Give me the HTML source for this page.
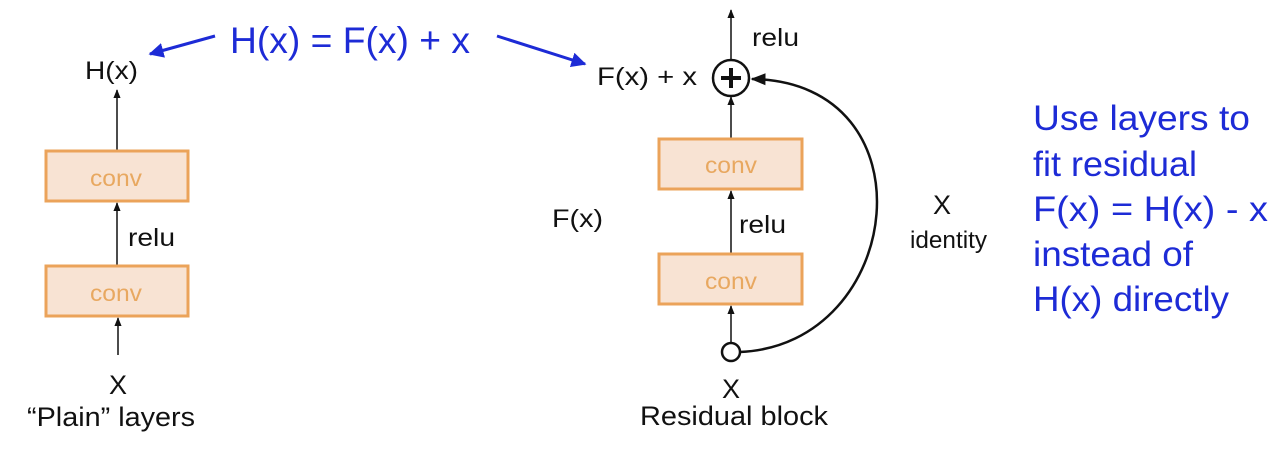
<!DOCTYPE html>
<html><head><meta charset="utf-8"><style>
html,body{margin:0;padding:0;background:#fff;width:1280px;height:459px;overflow:hidden}
svg text{font-family:"Liberation Sans",Arial,sans-serif}
</style></head><body>
<svg width="1280" height="459" viewBox="0 0 1280 459" xmlns="http://www.w3.org/2000/svg">
<defs>
<marker id="a" viewBox="0 0 10 10" refX="9" refY="5" markerWidth="6" markerHeight="7" orient="auto"><path d="M0,1 L10,5 L0,9 z" fill="#111"/></marker>
<marker id="b" viewBox="0 0 10 10" refX="9" refY="5" markerWidth="5" markerHeight="5" orient="auto"><path d="M0,0 L10,5 L0,10 z" fill="#1d2bd6"/></marker>
</defs>
<text x="230" y="53" font-size="37" fill="#1d2bd6" textLength="240" lengthAdjust="spacingAndGlyphs">H(x) = F(x) + x</text>
<line x1="215" y1="36" x2="150" y2="54" stroke="#1d2bd6" stroke-width="3" marker-end="url(#b)"/>
<line x1="497" y1="36" x2="585" y2="64" stroke="#1d2bd6" stroke-width="3" marker-end="url(#b)"/>
<!-- plain -->
<text x="85" y="79" font-size="25" fill="#111" textLength="53" lengthAdjust="spacingAndGlyphs">H(x)</text>
<line x1="117" y1="150" x2="117" y2="90" stroke="#111" stroke-width="1.5" marker-end="url(#a)"/>
<rect x="46" y="151" width="142" height="50" fill="#f8e3d3" stroke="#eba35a" stroke-width="3"/>
<text x="90" y="186" font-size="23" fill="#e8a860" textLength="52" lengthAdjust="spacingAndGlyphs">conv</text>
<line x1="117" y1="265" x2="117" y2="203" stroke="#111" stroke-width="1.5" marker-end="url(#a)"/>
<text x="128" y="246" font-size="25" fill="#111" textLength="47" lengthAdjust="spacingAndGlyphs">relu</text>
<rect x="46" y="266" width="142" height="50" fill="#f8e3d3" stroke="#eba35a" stroke-width="3"/>
<text x="90" y="301" font-size="23" fill="#e8a860" textLength="52" lengthAdjust="spacingAndGlyphs">conv</text>
<line x1="118" y1="355" x2="118" y2="318" stroke="#111" stroke-width="1.5" marker-end="url(#a)"/>
<text x="118" y="394" font-size="27" fill="#111" text-anchor="middle">X</text>
<text x="27" y="426" font-size="27" fill="#111" textLength="168" lengthAdjust="spacingAndGlyphs">“Plain” layers</text>
<!-- residual -->
<line x1="731" y1="60" x2="731" y2="10" stroke="#111" stroke-width="1.5" marker-end="url(#a)"/>
<text x="752" y="46" font-size="25" fill="#111" textLength="47" lengthAdjust="spacingAndGlyphs">relu</text>
<text x="597" y="85" font-size="25" fill="#111" textLength="100" lengthAdjust="spacingAndGlyphs">F(x) + x</text>
<circle cx="731" cy="78" r="18" fill="#fff" stroke="#111" stroke-width="2.5"/>
<line x1="721" y1="78" x2="741" y2="78" stroke="#111" stroke-width="4"/>
<line x1="731" y1="68" x2="731" y2="88" stroke="#111" stroke-width="4"/>
<line x1="731" y1="138" x2="731" y2="97" stroke="#111" stroke-width="1.5" marker-end="url(#a)"/>
<rect x="659" y="139" width="143" height="50" fill="#f8e3d3" stroke="#eba35a" stroke-width="3"/>
<text x="705" y="173" font-size="23" fill="#e8a860" textLength="52" lengthAdjust="spacingAndGlyphs">conv</text>
<line x1="731" y1="253" x2="731" y2="191" stroke="#111" stroke-width="1.5" marker-end="url(#a)"/>
<text x="739" y="233" font-size="25" fill="#111" textLength="47" lengthAdjust="spacingAndGlyphs">relu</text>
<rect x="659" y="254" width="143" height="50" fill="#f8e3d3" stroke="#eba35a" stroke-width="3"/>
<text x="705" y="289" font-size="23" fill="#e8a860" textLength="52" lengthAdjust="spacingAndGlyphs">conv</text>
<line x1="731" y1="343" x2="731" y2="306" stroke="#111" stroke-width="1.5" marker-end="url(#a)"/>
<circle cx="731" cy="352" r="9" fill="#fff" stroke="#111" stroke-width="2.5"/>
<path d="M740,352 C905,345 935,82 752,79" fill="none" stroke="#111" stroke-width="2.5" marker-end="url(#a)"/>
<text x="552" y="227" font-size="25" fill="#111" textLength="51" lengthAdjust="spacingAndGlyphs">F(x)</text>
<text x="942" y="214" font-size="27" fill="#111" text-anchor="middle">X</text>
<text x="910" y="248" font-size="24" fill="#111" textLength="77" lengthAdjust="spacingAndGlyphs">identity</text>
<text x="731" y="398" font-size="27" fill="#111" text-anchor="middle">X</text>
<text x="640" y="425" font-size="27" fill="#111" textLength="188" lengthAdjust="spacingAndGlyphs">Residual block</text>
<!-- right text -->
<g font-size="35" fill="#1d2bd6" lengthAdjust="spacingAndGlyphs">
<text x="1033" y="130" textLength="217" lengthAdjust="spacingAndGlyphs">Use layers to</text>
<text x="1033" y="176" textLength="164" lengthAdjust="spacingAndGlyphs">fit residual</text>
<text x="1033" y="221" textLength="235" lengthAdjust="spacingAndGlyphs">F(x) = H(x) - x</text>
<text x="1033" y="266" textLength="160" lengthAdjust="spacingAndGlyphs">instead of</text>
<text x="1033" y="311" textLength="196" lengthAdjust="spacingAndGlyphs">H(x) directly</text>
</g>
</svg>
</body></html>
